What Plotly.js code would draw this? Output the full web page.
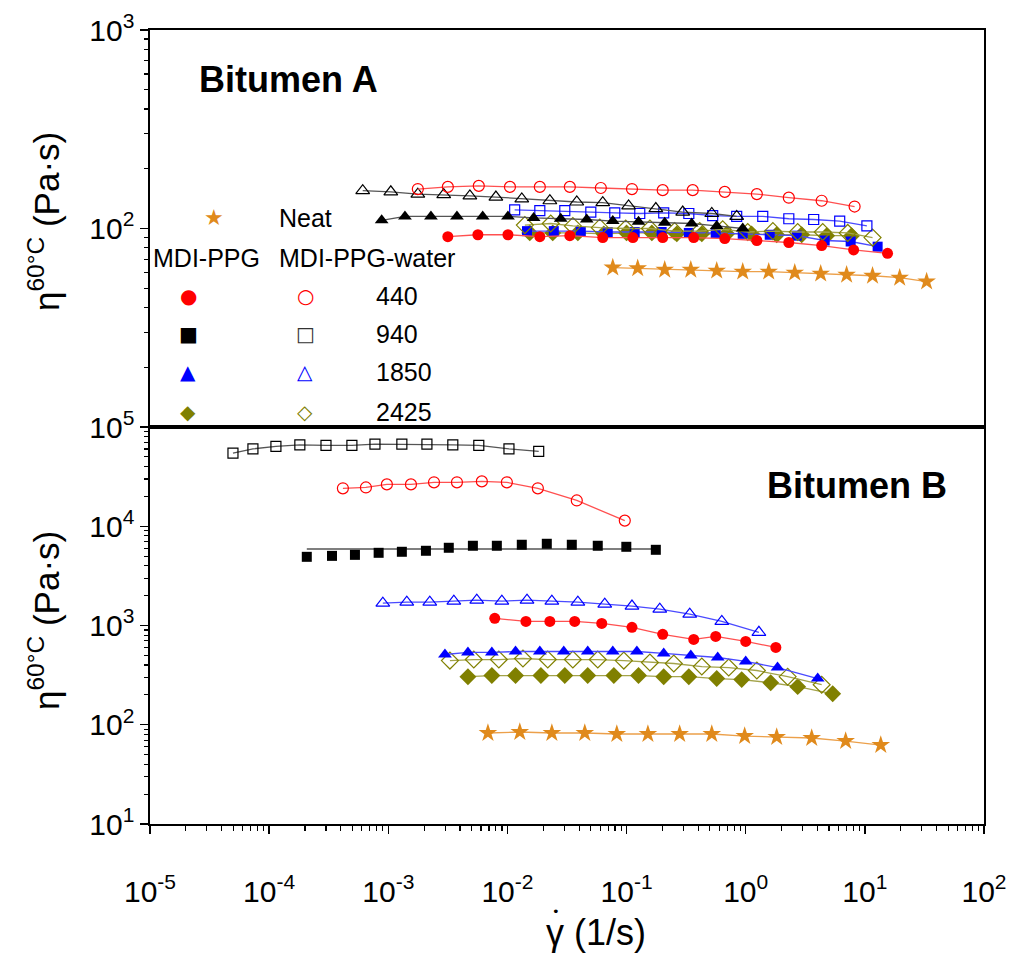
<!DOCTYPE html>
<html>
<head>
<meta charset="utf-8">
<script src="https://cdn.plot.ly/plotly-3.0.1.min.js"></script>
<style>html,body{margin:0;padding:0;background:#fff;}#chart{width:1018px;height:956px;}</style>
</head>
<body>
<div id="chart"></div>
<script>
// ---------- Bitumen A (top panel) ----------
const aOpenCircleX = [0.00177,0.00316,0.00575,0.0105,0.0187,0.0334,0.0608,0.111,0.201,0.359,0.667,1.24,2.30,4.34,8.2];
const aOpenCircleY = [158,162,164,162,162,162,160,158,156,156,153,149,143,138,129];
const aOpenTriX = [6.1e-4,1.05e-3,1.77e-3,2.92e-3,4.84e-3,8.0e-3,0.0132,0.0227,0.0382,0.0631,0.104,0.176,0.296,0.519,0.84];
const aOpenTriY = [155,153,149,148,146,144,141,138,136,135,130,126,121,119,115];
const aFillTriX = [8.8e-4,1.38e-3,2.28e-3,3.77e-3,6.2e-3,0.0101,0.0166,0.028,0.0463,0.0766,0.126,0.209,0.352,0.571,0.944];
const aFillTriY = [110,115,115,115,115,115,113,112,111,109,108,107,106,103,100];
const aOpenSqX = [0.0115,0.0187,0.0303,0.0501,0.0796,0.129,0.205,0.333,0.528,0.84,1.39,2.30,3.72,6.15,10.4];
const aOpenSqY = [124,123,123,121,120,119,120,119,116,115,115,112,111,109,103];
const aFillSqX = [0.0146,0.0245,0.0413,0.0695,0.117,0.197,0.333,0.56,0.944,1.59,2.68,4.6,7.6,12.8];
const aFillSqY = [97,97,97,96,96,96,95,95,94,93,92,87,86,81];
const aOpenDiaX = [0.014,0.0231,0.0354,0.0596,0.0984,0.157,0.253,0.411,0.641,1.04,1.69,2.73,4.43,7.18,11.6];
const aOpenDiaY = [104,106,103,101,100,100,97,97,99,96,97,96,96,95,90];
const aFillDiaX = [0.0154,0.024,0.039,0.0644,0.1,0.163,0.264,0.428,0.693,1.12,1.82,2.95,4.78,7.74];
const aFillDiaY = [95,95,95,94,95,95,94,94,94,94,93,93,92,92];
const aFillCircX = [3.16e-3,5.65e-3,0.0101,0.0187,0.0334,0.0631,0.113,0.201,0.366,0.667,1.24,2.30,4.34,8.05,15.5];
const aFillCircY = [91,93,93,91,92,90,90,90,90,89,87,85,82,78,75];
const aNeatX = [0.0766,0.124,0.209,0.346,0.571,0.944,1.56,2.58,4.26,7.03,11.6,19.6,33];
const aNeatY = [63.5,63,62,62,61.3,60.6,60.6,59.9,59.2,58.5,57.8,56.5,54];

// ---------- Bitumen B (bottom panel) ----------
const bOpenSqX = [4.97e-5,7.31e-5,1.14e-4,1.81e-4,3.0e-4,4.95e-4,7.73e-4,1.30e-3,2.11e-3,3.48e-3,5.75e-3,0.0103,0.0183];
const bOpenSqY = [54500,60200,63700,66100,65200,65200,67200,67200,67200,66100,65200,60200,56700];
const bOpenCircX = [4.16e-4,6.49e-4,9.73e-4,1.55e-3,2.42e-3,3.77e-3,6.1e-3,9.89e-3,0.018,0.0382,0.0966];
const bOpenCircY = [24100,24600,26400,26400,27700,27700,28300,27700,24100,18200,11400];
const bFillSqX = [2.07e-4,3.37e-4,5.25e-4,8.3e-4,1.30e-3,2.07e-3,3.22e-3,5.13e-3,8.15e-3,0.0132,0.0214,0.0347,0.0573,0.0995,0.176];
const bFillSqY = [4920,5030,5150,5400,5530,5660,6070,6360,6360,6510,6660,6510,6360,6210,5790];
const bFillSqFitX = [2.07e-4,0.176];
const bFillSqFitY = [5900,5900];
const bOpenTriX = [9.0e-4,1.43e-3,2.23e-3,3.55e-3,5.53e-3,8.98e-3,0.0146,0.0236,0.039,0.0656,0.111,0.19,0.339,0.63,1.29];
const bOpenTriY = [1680,1720,1720,1760,1800,1760,1800,1760,1720,1640,1570,1460,1300,1100,853];
const bFillCircX = [7.83e-3,0.0143,0.0227,0.0367,0.0619,0.111,0.201,0.366,0.56,1.0,1.79];
const bFillCircY = [1180,1100,1100,1100,1050,959,814,724,776,691,601];
const bFillTriX = [2.99e-3,4.66e-3,7.4e-3,0.0117,0.0187,0.0297,0.0472,0.0766,0.122,0.205,0.346,0.582,1.0,1.85,4.02];
const bFillTriY = [510,535,535,547,547,547,547,547,547,523,499,476,434,377,292];
const bOpenDiaX = [3.29e-3,5.22e-3,8.47e-3,0.0135,0.0218,0.0354,0.0573,0.0948,0.157,0.249,0.428,0.72,1.24,2.25,4.34];
const bOpenDiaY = [443,454,454,465,454,454,454,443,424,414,386,377,352,305,253];
const bFillDiaX = [4.66e-3,7.4e-3,0.0117,0.0191,0.0303,0.0472,0.0782,0.126,0.205,0.333,0.571,0.925,1.62,2.73,5.37];
const bFillDiaY = [305,313,313,313,313,313,313,313,305,305,292,285,265,242,205];
const bNeatX = [6.86e-3,0.0127,0.0236,0.0446,0.0828,0.151,0.279,0.519,0.98,1.82,3.58,6.9,13.6];
const bNeatY = [82.6,84.5,82.6,82.6,80.7,80.7,80.7,80.7,76.9,75.2,73.5,68.5,62.4];

// ---------- labels ----------
const xTickVals = [1e-5,1e-4,1e-3,1e-2,1e-1,1,10,100];
const xTickText = ['10<sup>-5</sup>','10<sup>-4</sup>','10<sup>-3</sup>','10<sup>-2</sup>','10<sup>-1</sup>','10<sup>0</sup>','10<sup>1</sup>','10<sup>2</sup>'];
const yTopTickVals = [100,1000];
const yTopTickText = ['10<sup>2</sup>','10<sup>3</sup>'];
const yBotTickVals = [10,100,1000,1e4,1e5];
const yBotTickText = ['10<sup>1</sup>','10<sup>2</sup>','10<sup>3</sup>','10<sup>4</sup>','10<sup>5</sup>'];
const legendSeriesNames = ['440','940','1850','2425'];

const RED='#ff0000', BLK='#000000', BLU='#0000ff', OLV='#808000', ORG='#e08a1c';
const LRED='#ff5050', LBLK='#555555', LBLU='#4a4aff', LOLV='#a3a34a', LORG='#eca04a';
const FONT = 'Liberation Sans, Arial, sans-serif';

function tr(x, y, sym, col, lcol, size, top, mode) {
  const open = sym.indexOf('open') >= 0;
  return {
    x: x, y: y, type: 'scatter', mode: mode || 'lines+markers',
    xaxis: top ? 'x2' : 'x', yaxis: top ? 'y2' : 'y',
    line: {color: lcol, width: 1.3},
    marker: {symbol: sym, size: size, color: col,
             line: {color: col, width: open ? 1.2 : 0}},
    showlegend: false, hoverinfo: 'skip'
  };
}

const data = [
  // top panel
  tr(aNeatX, aNeatY, 'star', ORG, LORG, 14, true),
  tr(aFillDiaX, aFillDiaY, 'diamond', OLV, LOLV, 13, true),
  tr(aFillSqX, aFillSqY, 'square', BLU, LBLU, 10, true),
  tr(aOpenDiaX, aOpenDiaY, 'diamond-open', OLV, LOLV, 13, true),
  tr(aOpenSqX, aOpenSqY, 'square-open', BLU, LBLU, 10, true),
  tr(aFillTriX, aFillTriY, 'triangle-up', BLK, LBLK, 12, true),
  tr(aOpenTriX, aOpenTriY, 'triangle-up-open', BLK, LBLK, 12, true),
  tr(aFillCircX, aFillCircY, 'circle', RED, LRED, 11, true),
  tr(aOpenCircleX, aOpenCircleY, 'circle-open', RED, LRED, 11, true),
  // bottom panel
  tr(bNeatX, bNeatY, 'star', ORG, LORG, 14, false),
  tr(bFillDiaX, bFillDiaY, 'diamond', OLV, LOLV, 13, false),
  tr(bOpenDiaX, bOpenDiaY, 'diamond-open', OLV, LOLV, 13, false),
  tr(bFillTriX, bFillTriY, 'triangle-up', BLU, LBLU, 12, false),
  tr(bFillCircX, bFillCircY, 'circle', RED, LRED, 11, false),
  tr(bOpenTriX, bOpenTriY, 'triangle-up-open', BLU, LBLU, 12, false),
  {x: bFillSqFitX, y: bFillSqFitY, type: 'scatter', mode: 'lines', xaxis: 'x', yaxis: 'y',
   line: {color: LBLK, width: 1.3}, showlegend: false, hoverinfo: 'skip'},
  tr(bFillSqX, bFillSqY, 'square', BLK, LBLK, 10, false, 'markers'),
  tr(bOpenCircX, bOpenCircY, 'circle-open', RED, LRED, 11, false),
  tr(bOpenSqX, bOpenSqY, 'square-open', BLK, LBLK, 10, false)
];

const axCommon = {
  type: 'log', showgrid: false, zeroline: false, showline: true, linecolor: '#000', linewidth: 1.6,
  mirror: true, tickcolor: '#000', tickwidth: 1.4,
  tickfont: {family: FONT, size: 30, color: '#000'}
};

const layout = {
  width: 1018, height: 956,
  margin: {l: 150, r: 34, t: 30, b: 132},
  paper_bgcolor: '#fff', plot_bgcolor: '#fff',
  showlegend: false,
  xaxis: Object.assign({}, axCommon, {
    anchor: 'y', domain: [0, 1], range: [-5, 2],
    tickmode: 'array', tickvals: xTickVals, ticktext: xTickText,
    ticks: 'outside', ticklen: 8, ticklabelstandoff: 32,
    minor: {ticks: 'outside', ticklen: 5, dtick: 'D1', tickcolor: '#000', tickwidth: 1.2, showgrid: false}
  }),
  yaxis: Object.assign({}, axCommon, {
    anchor: 'x', domain: [0, 0.5], range: [1, 5],
    tickmode: 'array', tickvals: yBotTickVals, ticktext: yBotTickText,
    ticks: 'outside', ticklen: 8,
    minor: {ticks: 'outside', ticklen: 4, dtick: 'D1', tickcolor: '#000', tickwidth: 1.2, showgrid: false}
  }),
  xaxis2: Object.assign({}, axCommon, {
    anchor: 'y2', domain: [0, 1], range: [-5, 2], showticklabels: false, ticks: ''
  }),
  yaxis2: Object.assign({}, axCommon, {
    anchor: 'x2', domain: [0.5, 1], range: [1, 3],
    tickmode: 'array', tickvals: yTopTickVals, ticktext: yTopTickText,
    ticks: 'outside', ticklen: 8,
    minor: {ticks: 'outside', ticklen: 4, dtick: 'D1', tickcolor: '#000', tickwidth: 1.2, showgrid: false}
  }),
  annotations: []
};

const ann = layout.annotations;
function txt(text, x, y, size, opts) {
  ann.push(Object.assign({text: text, xref: 'paper', yref: 'paper', x: x, y: y,
    xanchor: 'left', yanchor: 'middle', showarrow: false,
    font: {family: FONT, size: size, color: '#000'}}, opts || {}));
}
function glyph(ch, color, x, y, size) {
  ann.push({text: ch, xref: 'paper', yref: 'paper', x: x, y: y, xanchor: 'center', yanchor: 'middle',
    showarrow: false, font: {family: 'DejaVu Sans', size: size, color: color}});
}
// px -> paper helpers for layout annotations
const PX = p => (p - 150) / 834;
const PY = p => (824 - p) / 794;

txt('<b>Bitumen A</b>', PX(197), PY(80), 36);
txt('<b>Bitumen B</b>', PX(765), PY(485), 36);

// legend
glyph('\u2605', ORG, PX(214), PY(218), 22);
txt('Neat', PX(277), PY(218), 25);
txt('MDI-PPG', PX(151), PY(258), 25);
txt('MDI-PPG-water', PX(277), PY(258), 25);
const rowY = [296, 334, 372, 412];
const fillG = ['\u25CF', '\u25A0', '\u25B2', '\u25C6'];
const openG = ['\u25CB', '\u25A1', '\u25B3', '\u25C7'];
const fillC = [RED, BLK, BLU, OLV];
const openC = [RED, '#333333', BLU, OLV];
for (let i = 0; i < 4; i++) {
  glyph(fillG[i], fillC[i], PX(188), PY(rowY[i]), 20);
  glyph(openG[i], openC[i], PX(305), PY(rowY[i]), 20);
  txt(legendSeriesNames[i], PX(374), PY(rowY[i]), 25);
}

// axis titles
const yTitle = '\u03B7<sup>60\u00B0C</sup> (Pa\u00B7s)';
ann.push({text: yTitle, xref: 'paper', yref: 'paper', x: PX(44), y: PY(222), textangle: -90,
  xanchor: 'center', yanchor: 'middle', showarrow: false, font: {family: FONT, size: 35, color: '#000'}});
ann.push({text: yTitle, xref: 'paper', yref: 'paper', x: PX(44), y: PY(621), textangle: -90,
  xanchor: 'center', yanchor: 'middle', showarrow: false, font: {family: FONT, size: 35, color: '#000'}});
txt('\u03B3 (1/s)', PX(544), PY(932), 36);
glyph('\u2022', '#000', PX(556), PY(912), 13);

Plotly.newPlot('chart', data, layout, {staticPlot: true, displayModeBar: false});
</script>
</body>
</html>
